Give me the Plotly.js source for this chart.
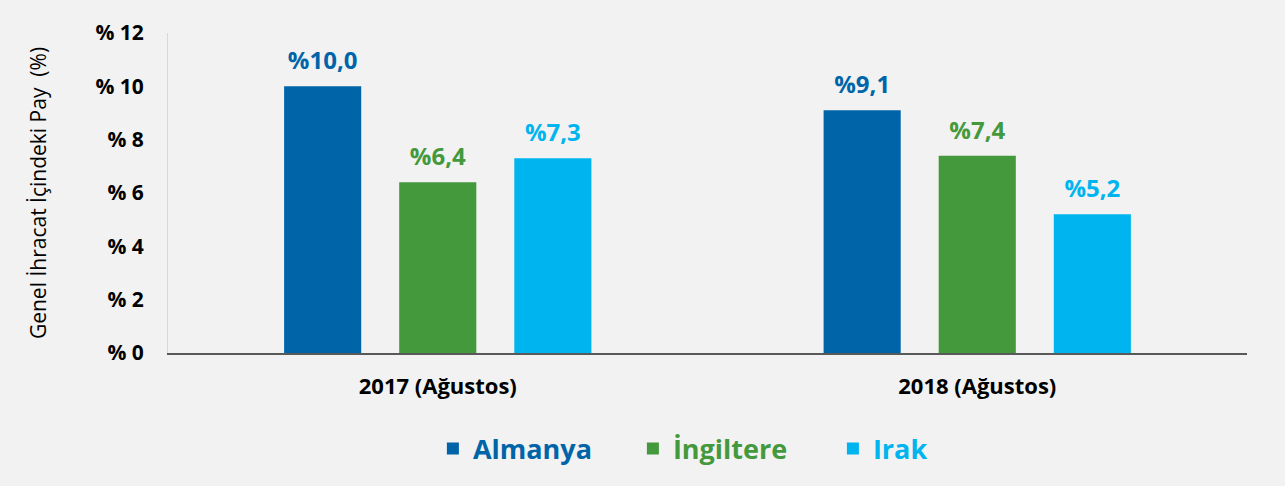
<!DOCTYPE html>
<html>
<head>
<meta charset="utf-8">
<script src="https://cdn.plot.ly/plotly-3.0.1.min.js"></script>
<style>html,body{margin:0;padding:0;background:#f2f2f2;}</style>
</head>
<body>
<div id="chart" style="width:1285px;height:486px;"></div>
<script>
const categories = ['2017 (Ağustos)', '2018 (Ağustos)'];
const almanya = [10.0, 9.1];
const ingiltere = [6.4, 7.4];
const irak = [7.3, 5.2];
const seriesNames = ['Almanya', 'İngiltere', 'Irak'];
const seriesColors = ['#0065A8', '#43993C', '#00B5EF'];
const yTickVals = [0, 2, 4, 6, 8, 10, 12];
const yTickText = ['% 0', '% 2', '% 4', '% 6', '% 8', '% 10', '% 12'];

const FONT = '"Open Sans", "Noto Sans", sans-serif';
const fmt = v => '%' + v.toFixed(1).replace('.', ',');
const seriesValues = [almanya, ingiltere, irak];

const barTraces = seriesValues.map((vals, i) => ({
  type: 'bar',
  x: categories,
  y: vals,
  name: '<span style="color:' + seriesColors[i] + '">' + seriesNames[i] + '</span>',
  marker: {color: seriesColors[i]},
  hoverinfo: 'none'
}));

const labelTraces = seriesValues.map((vals, i) => ({
  type: 'scatter',
  mode: 'markers+text',
  x: categories,
  y: vals,
  showlegend: false,
  marker: {size: 16, opacity: 0, color: seriesColors[i]},
  text: vals.map(fmt),
  textposition: 'top center',
  cliponaxis: false,
  textfont: {family: FONT, size: 24, color: seriesColors[i], weight: 'bold'},
  hoverinfo: 'none'
}));

const layout = {
  width: 1285, height: 486,
  paper_bgcolor: '#f2f2f2', plot_bgcolor: '#f2f2f2',
  margin: {l: 168, r: 38, t: 33, b: 133, autoexpand: false},
  barmode: 'group',
  scattermode: 'group',
  bargap: 0.36,
  bargroupgap: 0.33,
  scattergap: 0.36,
  font: {family: FONT, color: '#000'},
  xaxis: {
    showline: true, linecolor: '#595959', linewidth: 2,
    ticks: '', showgrid: false,
    tickfont: {size: 22, weight: 'bold', color: '#000'},
    ticklabelstandoff: 13
  },
  yaxis: {
    range: [0, 12],
    tickvals: yTickVals, ticktext: yTickText,
    showline: true, linecolor: '#c9dcef', linewidth: 1,
    showgrid: false, zeroline: false, ticks: '',
    tickfont: {size: 21, weight: 'bold', color: '#000'},
    ticklabelstandoff: 19,
    title: {text: 'Genel İhracat İçindeki Pay  (%)', font: {size: 21, color: '#000'}, standoff: 43}
  },
  showlegend: true,
  legend: {
    orientation: 'h', x: 0.2455, xanchor: 'left', y: -0.30, yanchor: 'middle',
    font: {size: 27, weight: 'bold'},
    itemwidth: 30, entrywidth: 155, entrywidthmode: 'pixels',
    traceorder: 'normal'
  }
};

Plotly.newPlot('chart', barTraces.concat(labelTraces), layout, {displayModeBar: false, staticPlot: true});
</script>
</body>
</html>
